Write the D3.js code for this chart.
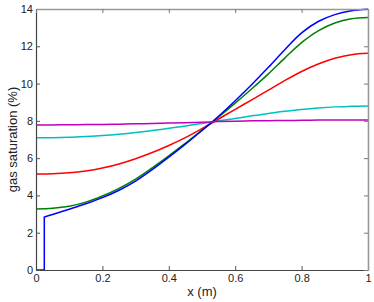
<!DOCTYPE html>
<html>
<head>
<meta charset="utf-8">
<script src="https://cdn.jsdelivr.net/npm/d3@7"></script>
<style>
  body { margin: 0; background: #fff; }
  text { font-family: "Liberation Sans", Arial, sans-serif; fill: #222; }
</style>
</head>
<body>
<svg id="chart"></svg>
<script>
// data
const xs = [0, 0.05, 0.1, 0.15, 0.2, 0.25, 0.3, 0.35, 0.4, 0.45, 0.5, 0.55, 0.6, 0.65, 0.7, 0.75, 0.8, 0.85, 0.9, 0.95, 1];
const blueX = [0, 0.025, 0.025, 0.05, 0.1, 0.15, 0.2, 0.25, 0.3, 0.35, 0.4, 0.45, 0.5, 0.55, 0.6, 0.65, 0.7, 0.75, 0.8, 0.85, 0.9, 0.95, 1];
const blueY = [0, 0, 2.84, 2.98, 3.26, 3.55, 3.88, 4.28, 4.77, 5.38, 6.05, 6.75, 7.48, 8.25, 9.08, 9.95, 10.87, 11.83, 12.72, 13.33, 13.7, 13.9, 13.98];
const greenY = [3.27, 3.31, 3.42, 3.64, 3.97, 4.38, 4.88, 5.48, 6.12, 6.8, 7.5, 8.21, 8.95, 9.72, 10.52, 11.38, 12.2, 12.83, 13.25, 13.48, 13.55];
const redY = [5.15, 5.16, 5.21, 5.31, 5.47, 5.69, 5.97, 6.3, 6.68, 7.1, 7.58, 8.1, 8.62, 9.13, 9.65, 10.17, 10.65, 11.05, 11.36, 11.55, 11.62];
const cyanY = [7.1, 7.1, 7.12, 7.16, 7.21, 7.28, 7.37, 7.48, 7.6, 7.72, 7.86, 8.0, 8.13, 8.27, 8.4, 8.51, 8.61, 8.69, 8.75, 8.78, 8.8];
const magentaY = [7.78, 7.78, 7.79, 7.8, 7.81, 7.82, 7.84, 7.86, 7.88, 7.9, 7.93, 7.96, 7.98, 8.0, 8.01, 8.02, 8.03, 8.04, 8.05, 8.05, 8.05];
const xTicks = [0, 0.2, 0.4, 0.6, 0.8, 1];
const yTicks = [0, 2, 4, 6, 8, 10, 12, 14];

const width = 374;
const height = 302;
const margin = { top: 9, right: 6, bottom: 32, left: 36 };

const svg = d3.select("#chart").attr("width", width).attr("height", height);

const x = d3.scaleLinear().domain([0, 1]).range([margin.left, width - margin.right]);
const y = d3.scaleLinear().domain([0, 14]).range([height - margin.bottom, margin.top]);

const line = d3.line().x(d => x(d[0])).y(d => y(d[1]));
const smooth = d3.line().x(d => x(d[0])).y(d => y(d[1])).curve(d3.curveCatmullRom.alpha(0.5));

// curves
const series = [
  { color: "#00bfbf", pts: xs.map((v, i) => [v, cyanY[i]]) },
  { color: "#ff0000", pts: xs.map((v, i) => [v, redY[i]]) },
  { color: "#008000", pts: xs.map((v, i) => [v, greenY[i]]) },
  { color: "#0000ff", pts: blueX.map((v, i) => [v, blueY[i]]), front: 3 },
  { color: "#bf00bf", pts: xs.map((v, i) => [v, magentaY[i]]) }
];

series.forEach(s => {
  // blue starts with a straight step, then a smooth curve
  const d = s.front
    ? line(s.pts.slice(0, s.front)) + smooth(s.pts.slice(s.front - 1)).replace(/^M/, "L")
    : smooth(s.pts);
  svg.append("path")
    .attr("d", d)
    .attr("fill", "none")
    .attr("stroke", s.color)
    .attr("stroke-width", 1.5);
});

// axes box
const bottomAxis = d3.axisBottom(x).tickValues(xTicks).tickSizeInner(-4).tickSizeOuter(0).tickPadding(4)
  .tickFormat(d => d === 0 || d === 1 ? d3.format("d")(d) : d3.format(".1f")(d));
const leftAxis = d3.axisLeft(y).tickValues(yTicks).tickSizeInner(-4).tickSizeOuter(0).tickPadding(3);

const gx = svg.append("g").attr("transform", `translate(0,${height - margin.bottom})`).call(bottomAxis);
const gy = svg.append("g").attr("transform", `translate(${margin.left},0)`).call(leftAxis);
const gxt = svg.append("g").attr("transform", `translate(0,${margin.top})`)
  .call(d3.axisTop(x).tickValues(xTicks).tickSizeInner(-4).tickSizeOuter(0).tickFormat(""));
const gyr = svg.append("g").attr("transform", `translate(${width - margin.right},0)`)
  .call(d3.axisRight(y).tickValues(yTicks).tickSizeInner(-4).tickSizeOuter(0).tickFormat(""));

[gx, gy].forEach(g => {
  g.select(".domain").attr("stroke", "#444").attr("stroke-width", 1.2);
  g.selectAll(".tick line").attr("stroke", "#555");
  g.selectAll("text").attr("fill", "#222").style("font-size", "11px")
    .style("font-family", "'Liberation Sans', Arial, sans-serif");
});
[gxt, gyr].forEach(g => {
  g.select(".domain").attr("stroke", "#999").attr("stroke-width", 1.6);
  g.selectAll(".tick line").attr("stroke", "#777");
});

// labels
svg.append("text")
  .attr("x", (margin.left + width - margin.right) / 2)
  .attr("y", 296)
  .attr("text-anchor", "middle")
  .style("font-size", "13px")
  .text("x (m)");

svg.append("text")
  .attr("transform", `translate(17,${(margin.top + height - margin.bottom) / 2}) rotate(-90)`)
  .attr("text-anchor", "middle")
  .style("font-size", "13px")
  .text("gas saturation (%)");
</script>
</body>
</html>
